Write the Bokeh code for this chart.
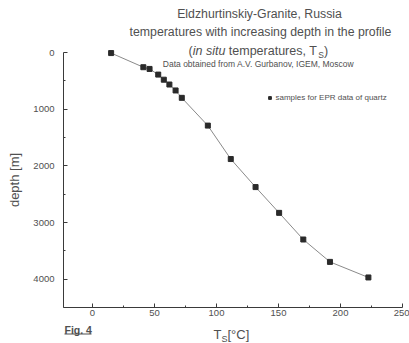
from bokeh.plotting import figure
from bokeh.models import Range1d, FixedTicker, Label, Legend, LegendItem
from bokeh.embed import file_html
from bokeh.resources import INLINE

# ---- data ----
temperature_c = [15, 41, 46, 53, 57.5, 62, 67, 72, 93, 111.5, 131.5, 150.5, 170, 191.5, 222.5]
depth_m = [10, 260, 290, 390, 480, 565, 670, 800, 1290, 1880, 2375, 2830, 3300, 3695, 3970]
x_ticks = [0, 50, 100, 150, 200, 250]
x_minor = [25, 75, 125, 175, 225]
y_ticks = [0, 1000, 2000, 3000, 4000]
y_minor = [500, 1500, 2500, 3500, 4500]
x_axis_span = (-23.4, 250)
y_axis_span = (0, 4500)

TXT = "#505050"
AX = "#3a3a3a"
FONT = "Liberation Sans"

W, H = 409, 343
# axis geometry in picture pixels (frame fills the whole canvas; axes are fixed inside it)
AX_LEFT, AX_RIGHT, AX_TOP, AX_BOTTOM = 63, 402, 52, 307
kx = (AX_RIGHT - AX_LEFT) / (x_axis_span[1] - x_axis_span[0])
ky = (AX_BOTTOM - AX_TOP) / (y_axis_span[1] - y_axis_span[0])
XS = x_axis_span[0] - AX_LEFT / kx
XE = x_axis_span[1] + (W - AX_RIGHT) / kx
YT = y_axis_span[0] - AX_TOP / ky
YB = y_axis_span[1] + (H - AX_BOTTOM) / ky

p = figure(width=W, height=H, output_backend="svg", toolbar_location=None,
           x_range=Range1d(XS, XE), y_range=Range1d(YB, YT),
           min_border=0)
p.outline_line_color = None
p.grid.visible = False
p.background_fill_color = "white"
p.border_fill_color = "white"

for ax in (p.xaxis[0], p.yaxis[0]):
    ax.axis_line_color = AX
    ax.major_tick_line_color = AX
    ax.minor_tick_line_color = AX
    ax.major_tick_in = 4
    ax.major_tick_out = 0
    ax.minor_tick_in = 2
    ax.minor_tick_out = 0
    ax.major_label_text_font = FONT
    ax.major_label_text_font_size = "9.5px"
    ax.major_label_text_color = TXT

p.xaxis.ticker = FixedTicker(ticks=x_ticks, minor_ticks=x_minor)
p.yaxis.ticker = FixedTicker(ticks=y_ticks, minor_ticks=y_minor)
p.xaxis.fixed_location = y_axis_span[1]
p.yaxis.fixed_location = x_axis_span[0]
p.xaxis.bounds = x_axis_span
p.yaxis.bounds = y_axis_span
p.xaxis.major_label_standoff = 2
p.yaxis.major_label_standoff = 9
p.yaxis.axis_label = "depth [m]"
p.yaxis.axis_label_text_font = FONT
p.yaxis.axis_label_text_font_size = "13px"
p.yaxis.axis_label_text_font_style = "normal"
p.yaxis.axis_label_text_color = TXT
p.yaxis.axis_label_standoff = 8

p.line(temperature_c, depth_m, line_color="#8a8a8a", line_width=1)
sq = p.scatter(temperature_c, depth_m, marker="square", size=5,
               fill_color="#2a2a2a", line_color="#2a2a2a")

legend = Legend(items=[LegendItem(label="samples for EPR data of quartz", renderers=[sq])],
                location=(265.5, H - 101.5), glyph_width=7, glyph_height=7, label_height=8,
                label_text_font=FONT, label_text_font_size="8px", label_text_color=TXT,
                label_standoff=3, padding=0, margin=0, spacing=0,
                border_line_color=None, background_fill_alpha=0)
p.add_layout(legend, "center")


def lab(text, px, py, size, align="left", style="normal", color=TXT):
    # px, py: picture pixels from the top-left -> screen units of the (full-canvas) frame
    p.add_layout(Label(x=px, y=H - py, x_units="screen", y_units="screen",
                       text=text, text_font=FONT,
                       text_font_size=size, text_align=align, text_baseline="alphabetic",
                       text_font_style=style, text_color=color))


# titles
lab("Eldzhurtinskiy-Granite, Russia", 259, 13.5, "12.3px", "center")
lab("temperatures with increasing depth in the profile", 260, 31, "12.3px", "center")
lab("(", 188, 50, "12.5px")
lab("in situ", 192.2, 50, "12.5px", style="italic")
lab("temperatures, T", 228.3, 50, "12.5px")
lab("S", 317.8, 54, "8.5px")
lab(")", 323.5, 50, "12.5px")
lab("Data obtained from A.V. Gurbanov, IGEM, Moscow", 258, 63, "8.5px", "center")

# x axis label T_S[°C]
lab("T", 213, 334, "13px")
lab("S", 221, 338, "9px")
lab("[°C]", 227, 334, "13px")

# Fig. 4 (bold, underlined)
lab("Fig. 4", 64, 329.5, "10.5px", style="bold")
ux0 = XS + 64 / kx
ux1 = XS + 91 / kx
uy = YT + 333.5 / ky
p.segment(x0=[ux0], y0=[uy], x1=[ux1], y1=[uy], line_color=TXT, line_width=1.2)

open("out.html", "w").write(file_html(p, INLINE))
